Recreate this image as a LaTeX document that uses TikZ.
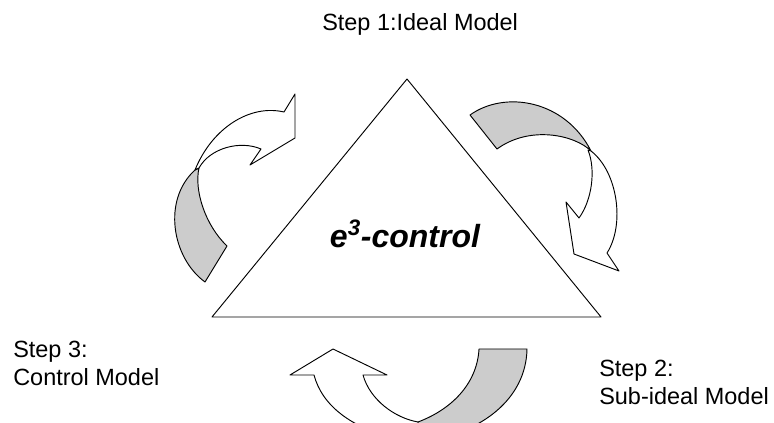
\documentclass[tikz,border=0pt]{standalone}
\usepackage{fontspec}
\setmainfont{Liberation Sans}
\usetikzlibrary{calc}
\definecolor{ribbongray}{RGB}{204,204,204}
\tikzset{
	outline/.style={draw=black, line width=0.7pt, line join=round},
	frontside/.style={outline, fill=white},
	backside/.style={outline, fill=ribbongray},
	steplabel/.style={font=\fontsize{17.6}{21}\selectfont, align=left, inner sep=0pt},
	corelabel/.style={font=\fontsize{24}{28}\selectfont\bfseries\itshape, inner sep=0pt}
}

\begin{document}
\begin{tikzpicture}[x=0.75pt, y=-0.75pt]
	\useasboundingbox (0,0) rectangle (774,423);
	\clip (0,0) rectangle (774,423);
	
	%% -- Triangle
	\coordinate (apex) at (407,79);
	\coordinate (baseL) at (212,317);
	\coordinate (baseR) at (601,317);
	\draw[frontside] (apex) -- (baseR) -- (baseL) -- cycle;
	\node[corelabel, anchor=base] (core) at (405,248) {e\textsuperscript{3}-control};
	
	%% -- Step labels
	\node[steplabel, anchor=base west] (step1) at (322,31) {Step 1:Ideal Model};
	\node[steplabel, anchor=north west] (step3) at (13,341) {Step 3:\\Control Model};
	\node[steplabel, anchor=north west] (step2) at (599,360) {Step 2:\\Sub-ideal Model};
	
	%% -- Ribbon step 3 -> step 1 (left)
	\draw[backside] (205,282) .. controls (172,258) and (162,200) .. (195,170)
		-- (199,168) .. controls (194,190) and (205,225) .. (227,246) -- cycle;
	\draw[frontside] (195,170) .. controls (212,128) and (250,104) .. (284,112)
		-- (295,94) -- (295,138) -- (250,165) -- (261,149)
		.. controls (240,140) and (210,148) .. (199,168) -- cycle;
	
	%% -- Ribbon step 1 -> step 2 (right)
	\draw[backside] (470,115) .. controls (505,90) and (565,100) .. (591,151)
		.. controls (575,135) and (530,125) .. (497,149) -- cycle;
	\draw[frontside] (591,151) .. controls (618,172) and (625,225) .. (607,253)
		-- (619,271) -- (574,254) -- (566,202) -- (579,218)
		.. controls (592,200) and (596,170) .. (588,150) -- cycle;
	
	%% -- Ribbon step 2 -> step 3 (bottom)
	\draw[backside] (479,349) -- (527,349) .. controls (526,400) and (480,432) .. (430,440)
		-- (418,446) -- (418,422) .. controls (450,410) and (477,385) .. (479,349) -- cycle;
	\draw[frontside] (363,375) -- (387,375) -- (333,349) -- (290,375) -- (314,375)
		.. controls (322,405) and (350,428) .. (400,440) -- (418,446) -- (418,422)
		.. controls (395,418) and (370,400) .. (363,375) -- cycle;
	
\end{tikzpicture}
\end{document}
